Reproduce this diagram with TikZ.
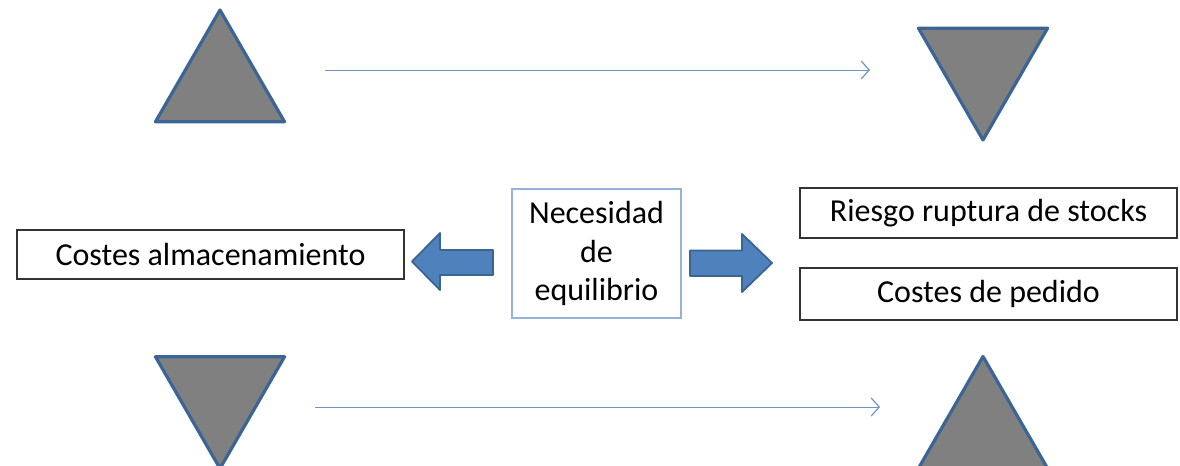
\documentclass[tikz,border=0pt]{standalone}
\usepackage{fontspec}
\setmainfont{Carlito}
\usepackage{xcolor}
\usetikzlibrary{shapes.geometric,arrows.meta}
\definecolor{triblue}{HTML}{3B6594}
\definecolor{trigray}{HTML}{808080}
\definecolor{arrowfill}{HTML}{4F81BD}
\definecolor{arrowline}{HTML}{3A6591}
\definecolor{thinblue}{HTML}{6F95C8}
\definecolor{lightframe}{HTML}{95B3D7}
\tikzset{
  tri/.style={regular polygon, regular polygon sides=3, minimum size=74.5pt, inner sep=0pt,
    draw=triblue, fill=trigray, line width=1.6pt, line join=round},
  tridown/.style={tri, shape border rotate=180},
  labelbox/.style={draw=black!80, line width=0.7pt, inner sep=0pt, align=center},
  blockarrow/.style={draw=arrowline, fill=arrowfill, line width=0.9pt, line join=round},
  thinarrow/.style={draw=thinblue, line width=0.5pt, -{Straight Barb[length=4pt,width=9pt,line width=0.6pt]}}
}
\begin{document}
\begin{tikzpicture}[x=0.5pt, y=-0.5pt, font=\fontsize{16}{19.2}\selectfont]
\useasboundingbox (0,0) rectangle (1180,466);

% triangles
\node[tri] (tl) at (220,84.5) {};
\node[tridown] (tr) at (983,65.5) {};
\node[tridown] (bl) at (220,394) {};
\node[tri] (br) at (983,431) {};

% thin arrows
\coordinate (topstart) at (325,70);
\coordinate (topend) at (870,70);
\coordinate (botstart) at (315,407);
\coordinate (botend) at (880,407);
\draw[thinarrow] (topstart) -- (topend);
\draw[thinarrow] (botstart) -- (botend);

% boxes
\node[labelbox, minimum width=193.5pt, minimum height=24.5pt] (almac) at (210.5,254.5) {Costes almacenamiento};
\node[labelbox, draw=lightframe, minimum width=84.5pt, minimum height=64.5pt] (equil) at (596.5,253.5) {Necesidad\\de\\equilibrio};
\node[labelbox, minimum width=188.5pt, minimum height=25pt] (riesgo) at (988.5,213) {Riesgo ruptura de stocks};
\node[labelbox, minimum width=188.5pt, minimum height=26pt] (pedido) at (988.5,294) {Costes de pedido};

% block arrows
\draw[blockarrow] (493,250) -- (440,250) -- (440,233) -- (412,261.5) -- (440,290) -- (440,275) -- (493,275) -- cycle;
\draw[blockarrow] (690,250.5) -- (742,250.5) -- (742,234) -- (772,263) -- (742,292) -- (742,276) -- (690,276) -- cycle;
\end{tikzpicture}
\end{document}
